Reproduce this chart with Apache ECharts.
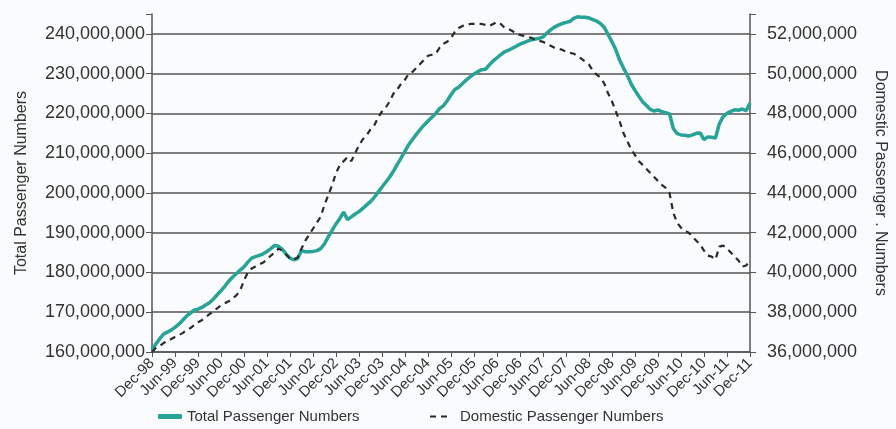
<!DOCTYPE html>
<html>
<head>
<meta charset="utf-8">
<script src="https://cdn.jsdelivr.net/npm/echarts@6/dist/echarts.min.js"></script>
<style>html,body{margin:0;padding:0;background:#fafbfd;}#c{width:896px;height:429px;}</style>
</head>
<body>
<div id="c"></div>
<script>
// Monthly categories Dec-98 .. Dec-11
const monthNames = ['Jan','Feb','Mar','Apr','May','Jun','Jul','Aug','Sep','Oct','Nov','Dec'];
const categories = [];
for (let k = 0; k <= 156; k++) {
  const m = (11 + k) % 12;
  const y = 1998 + Math.floor((11 + k) / 12);
  categories.push(monthNames[m] + '-' + String(y % 100).padStart(2, '0'));
}

// Total Passenger Numbers (millions), left axis
const totalPassengers = [
160.5,162.0,163.3,164.5,165.0,165.5,166.2,167.0,168.0,169.0,169.8,170.5,
170.8,171.2,171.8,172.4,173.3,174.4,175.4,176.5,177.8,178.8,179.7,180.6,
181.4,182.6,183.6,184.0,184.3,184.7,185.3,186.0,186.8,186.6,185.8,184.6,
183.6,183.2,183.5,185.5,185.2,185.2,185.3,185.5,186.0,187.2,189.0,190.6,
192.2,193.6,195.2,193.3,194.0,194.7,195.3,196.1,197.0,197.8,198.9,200.2,
201.5,202.7,204.0,205.5,207.2,208.8,210.5,212.2,213.5,214.8,216.0,217.1,
218.1,219.0,220.0,221.2,221.9,223.2,224.7,226.0,226.6,227.5,228.4,229.2,
229.9,230.5,231.0,231.1,232.2,233.2,234.0,234.8,235.5,235.9,236.4,236.9,
237.4,237.8,238.2,238.5,238.7,238.9,239.2,240.2,241.0,241.7,242.2,242.6,
242.9,243.1,243.9,244.3,244.2,244.2,244.0,243.6,243.2,242.6,241.6,239.8,
238.0,236.0,233.4,231.4,229.6,227.4,225.8,224.3,222.9,222.0,221.0,220.6,
220.9,220.4,220.2,219.9,216.2,214.9,214.6,214.5,214.3,214.6,215.0,215.1,
213.4,214.1,214.0,213.8,217.4,219.2,220.0,220.5,220.9,220.8,221.1,220.7,
222.6
];

// Domestic Passenger Numbers (millions), right axis
const domesticPassengers = [
36.0,36.2,36.3,36.45,36.55,36.65,36.75,36.85,36.95,37.1,37.2,37.35,
37.5,37.6,37.75,37.9,38.05,38.2,38.35,38.45,38.55,38.7,38.85,39.1,
39.6,40.0,40.2,40.3,40.4,40.5,40.65,40.85,41.0,41.2,41.1,40.9,
40.7,40.65,40.75,41.2,41.6,41.9,42.2,42.5,42.8,43.4,43.9,44.4,
45.0,45.4,45.6,45.8,45.6,46.0,46.4,46.7,46.9,47.2,47.4,47.8,
48.1,48.3,48.6,49.0,49.2,49.5,49.7,50.0,50.1,50.3,50.5,50.7,
50.9,50.95,51.0,51.3,51.5,51.6,51.8,52.1,52.3,52.4,52.45,52.5,
52.5,52.5,52.5,52.45,52.4,52.5,52.6,52.5,52.3,52.25,52.15,52.0,
51.95,51.9,51.85,51.8,51.7,51.65,51.6,51.5,51.4,51.3,51.25,51.2,
51.1,51.05,51.0,50.9,50.75,50.6,50.45,50.15,49.95,49.8,49.5,49.0,
48.6,48.1,47.6,47.0,46.6,46.2,45.9,45.6,45.4,45.2,45.0,44.8,
44.6,44.4,44.25,44.0,43.0,42.5,42.25,42.1,42.0,41.8,41.6,41.4,
41.1,40.85,40.8,40.65,41.3,41.35,41.2,41.0,40.8,40.6,40.3,40.35,
40.6
];

const seriesNames = ['Total Passenger Numbers', 'Domestic Passenger Numbers'];
const leftAxisName = 'Total Passenger Numbers';
const rightAxisName = 'Domestic Passenger . Numbers';

const FONT = '"Liberation Sans", Arial, sans-serif';
const TEXT = '#333';
const AXIS = '#555';
const TEAL = '#27a397';
const DASH = '#2a2a2a';
const fmt = v => Math.round(v * 1e6).toLocaleString('en-US');

const chart = echarts.init(document.getElementById('c'), null, {renderer: 'canvas'});
chart.setOption({
  backgroundColor: '#fafbfd',
  animation: false,
  textStyle: {fontFamily: FONT},
  grid: {left: 152, right: 138, top: 14, bottom: 77},
  legend: [
    {data: [seriesNames[0]], left: 153, top: 404, itemWidth: 24, itemHeight: 5,
     icon: 'roundRect', itemGap: 10,
     textStyle: {fontFamily: FONT, fontSize: 15, color: TEXT}},
    {data: [seriesNames[1]], left: 425, top: 404, itemWidth: 17, itemHeight: 2.5,
     icon: 'path://M0,0L6,0L6,2L0,2ZM11,0L17,0L17,2L11,2Z', itemGap: 10,
     textStyle: {fontFamily: FONT, fontSize: 15, color: TEXT, padding: [0, 0, 0, 8]}}
  ],
  xAxis: {
    type: 'category', data: categories, boundaryGap: false,
    axisLine: {lineStyle: {color: AXIS, width: 1.5}},
    axisTick: {interval: 5, length: 5, lineStyle: {color: AXIS}},
    axisLabel: {interval: 5, rotate: 45, fontSize: 15, color: TEXT, fontFamily: FONT, margin: 9}
  },
  yAxis: [
    {
      type: 'value', min: 160, max: 245, interval: 10, position: 'left',
      name: leftAxisName, nameLocation: 'middle', nameGap: 122,
      nameTextStyle: {fontSize: 16, color: TEXT, fontFamily: FONT},
      axisLine: {show: true, lineStyle: {color: AXIS, width: 1.5}},
      axisTick: {show: true, length: 6, lineStyle: {color: AXIS}},
      axisLabel: {fontSize: 18, color: TEXT, fontFamily: FONT, margin: 7,
        formatter: v => v > 240 ? '' : fmt(v)},
      splitLine: {show: true, showMaxLine: false, lineStyle: {color: AXIS, width: 1.5}}
    },
    {
      type: 'value', min: 36, max: 53, interval: 2, position: 'right',
      name: rightAxisName, nameLocation: 'middle', nameGap: 122, nameRotate: -90,
      nameTextStyle: {fontSize: 16, color: TEXT, fontFamily: FONT},
      axisLine: {show: true, lineStyle: {color: AXIS, width: 1.5}},
      axisTick: {show: true, length: 6, lineStyle: {color: AXIS}},
      axisLabel: {fontSize: 18, color: TEXT, fontFamily: FONT, margin: 17,
        formatter: v => v > 52 ? '' : fmt(v)},
      splitLine: {show: false}
    }
  ],
  series: [
    {
      name: seriesNames[0], type: 'line', yAxisIndex: 0, data: totalPassengers,
      showSymbol: false, symbol: 'none',
      itemStyle: {color: TEAL},
      lineStyle: {color: TEAL, width: 3.5}
    },
    {
      name: seriesNames[1], type: 'line', yAxisIndex: 1, data: domesticPassengers,
      showSymbol: false, symbol: 'none',
      itemStyle: {color: DASH},
      lineStyle: {color: DASH, width: 2.2, type: [6, 5]}
    }
  ]
});
</script>
</body>
</html>
